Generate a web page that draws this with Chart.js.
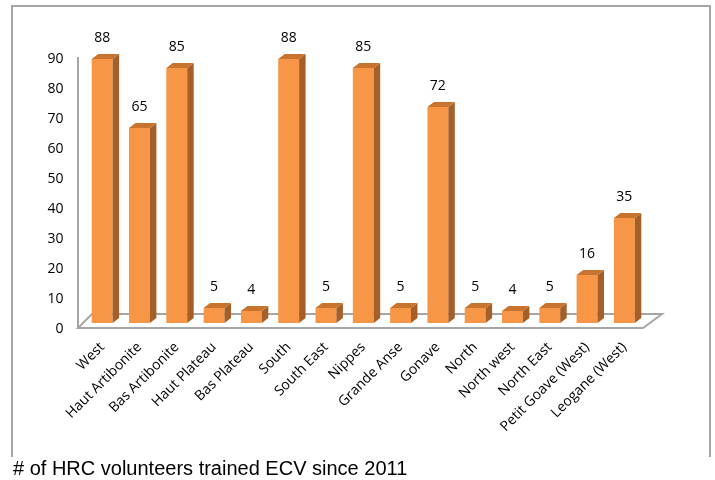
<!DOCTYPE html>
<html><head><meta charset="utf-8">
<script src="https://cdn.jsdelivr.net/npm/chart.js@4/dist/chart.umd.min.js"></script>
<style>
body{margin:0;background:#fff;}
#wrap{position:relative;width:715px;height:480px;overflow:hidden;}
#frame{position:absolute;left:11px;top:5px;width:696px;height:450px;border:2px solid #A6A6A6;border-bottom:none;}
#cap{position:absolute;left:13px;top:457px;font-size:20px;line-height:23px;font-family:"Liberation Sans",Arial,sans-serif;color:#000;white-space:nowrap;}
#c{position:absolute;left:0;top:0;}
</style></head>
<body><div id="wrap"><div id="frame"></div><canvas id="c" width="715" height="480"></canvas><div id="cap"># of HRC volunteers trained ECV since 2011</div></div>
<script>
const categories = ["West","Haut Artibonite","Bas Artibonite","Haut Plateau","Bas Plateau","South","South East","Nippes","Grande Anse","Gonave","North","North west","North East","Petit Goave (West)","Leogane (West)"];
const volunteers = [88,65,85,5,4,88,5,85,5,72,5,4,5,16,35];
const yTicks = [0,10,20,30,40,50,60,70,80,90];

const FRONT = '#F79646', SIDE = '#A5602A', TOP = '#C8742F', AXIS = '#A6A6A6';
const DX = 6.5, DY = 5;
const FONT = '"Open Sans", sans-serif';

const bar3d = {
  id: 'bar3d',
  beforeDatasetsDraw(chart) {
    const ctx = chart.ctx, a = chart.chartArea;
    const y0 = chart.scales.y.getPixelForValue(0);
    const fy = y0 + 5, by = y0 - 9;
    const lx = a.left - 5.5, rx = a.right;
    ctx.save();
    ctx.strokeStyle = AXIS; ctx.lineWidth = 2;
    ctx.beginPath(); ctx.moveTo(lx, chart.scales.y.getPixelForValue(90) + 4); ctx.lineTo(lx, fy); ctx.stroke();
    ctx.fillStyle = '#fff';
    ctx.beginPath();
    ctx.moveTo(lx, fy); ctx.lineTo(rx, fy); ctx.lineTo(rx + 19, by); ctx.lineTo(lx + 14, by); ctx.closePath();
    ctx.fill(); ctx.stroke();
    ctx.restore();
  },
  afterDatasetsDraw(chart) {
    const ctx = chart.ctx;
    const meta = chart.getDatasetMeta(0);
    ctx.save();
    meta.data.forEach((bar, i) => {
      const p = bar.getProps(['x','y','base','width'], true);
      const l = p.x - p.width/2, r = p.x + p.width/2, t = p.y, b = p.base;
      ctx.fillStyle = SIDE;
      ctx.beginPath(); ctx.moveTo(r, t); ctx.lineTo(r+DX, t-DY); ctx.lineTo(r+DX, b-DY); ctx.lineTo(r, b); ctx.closePath(); ctx.fill();
      ctx.fillStyle = TOP;
      ctx.beginPath(); ctx.moveTo(l, t); ctx.lineTo(l+DX, t-DY); ctx.lineTo(r+DX, t-DY); ctx.lineTo(r, t); ctx.closePath(); ctx.fill();
      ctx.fillStyle = '#000';
      ctx.font = '14px ' + FONT;
      ctx.textAlign = 'center'; ctx.textBaseline = 'middle';
      ctx.fillText(String(volunteers[i]), p.x, t - 21);
    });
    ctx.restore();
  }
};

new Chart(document.getElementById('c'), {
  type: 'bar',
  data: { labels: categories, datasets: [{ data: volunteers, backgroundColor: FRONT, borderWidth: 0, categoryPercentage: 1, barPercentage: 0.56 }] },
  options: {
    responsive: false, animation: false,
    layout: { padding: { top: 53, right: 72, bottom: 29, left: 27.5 } },
    plugins: { legend: { display: false }, tooltip: { enabled: false } },
    scales: {
      x: {
        grid: { display: false, drawTicks: false }, border: { display: false },
        ticks: { minRotation: 45, maxRotation: 45, padding: 16, color: '#000', font: { family: FONT, size: 14 } }
      },
      y: {
        min: 0, max: 90,
        afterBuildTicks(s) { s.ticks = yTicks.map(v => ({ value: v })); },
        grid: { display: false, drawTicks: false }, border: { display: false },
        ticks: { padding: 20, labelOffset: 6, color: '#000', font: { family: FONT, size: 14 } }
      }
    }
  },
  plugins: [bar3d]
});
</script></body></html>
